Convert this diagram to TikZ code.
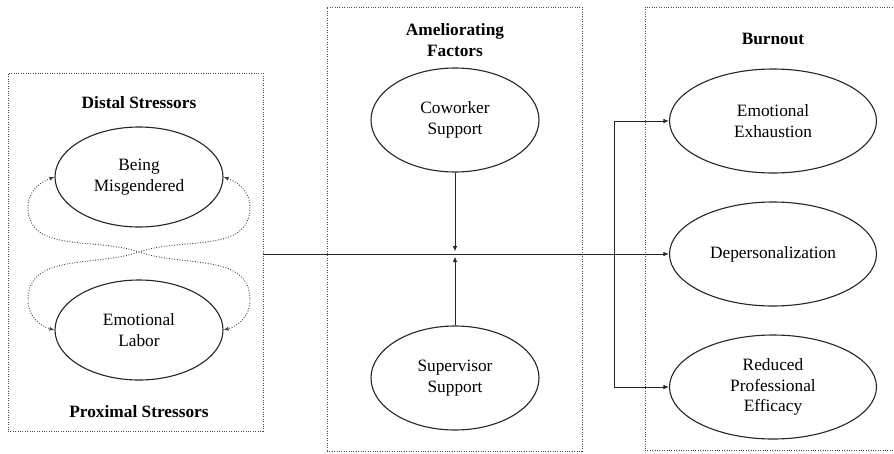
\documentclass[tikz,border=0pt]{standalone}
\usepackage{fontspec}
\setmainfont{Liberation Serif}
\usetikzlibrary{shapes.geometric,arrows.meta}
\begin{document}
\begin{tikzpicture}[x=1pt,y=1pt,
  every node/.style={font=\fontsize{17.3}{20.5}\selectfont, align=center, text=black},
  oval/.style={draw=black!85, line width=1.1pt, ellipse, inner sep=0pt},
  smalloval/.style={oval, minimum width=168, minimum height=100},
  bigoval/.style={oval, minimum width=207, minimum height=104},
  midoval/.style={oval, minimum width=168, minimum height=104},
  framebox/.style={draw=black!70, line width=0.8pt, dash pattern=on 0.8pt off 1.6pt, rectangle, inner sep=0pt},
  hdr/.style={font=\fontsize{17.3}{21}\selectfont\bfseries},
  arr/.style={draw=black!85, line width=1pt, -{Latex[length=5.5pt,width=4.5pt]}},
  dotarr/.style={draw=black!75, line width=0.9pt, dash pattern=on 0.9pt off 1.7pt, {Latex[length=5pt,width=4pt]}-{Latex[length=5pt,width=4pt]}}
]
\useasboundingbox (0,0) rectangle (894,-453);
\clip (0,0) rectangle (894,-453);
\fill[white] (0,0) rectangle (894,-453);

% frames
\node[framebox, minimum width=255, minimum height=358] (lbox) at (135.5,-252) {};
\node[framebox, minimum width=255, minimum height=444] (mbox) at (454.5,-229) {};
\node[framebox, minimum width=255, minimum height=443] (rbox) at (772.5,-228.5) {};

% headers
\node[hdr] (hdist) at (139,-103) {Distal Stressors};
\node[hdr] (hprox) at (139,-412) {Proximal Stressors};
\node[hdr] (hamel) at (455,-40) {Ameliorating\\Factors};
\node[hdr] (hburn) at (773,-39) {Burnout};

% ellipses
\node[smalloval] (bm) at (139,-177) {Being\\Misgendered};
\node[smalloval] (el) at (139,-330) {Emotional\\Labor};
\node[midoval] (cw) at (455,-120) {Coworker\\Support};
\node[midoval] (sv) at (455,-378) {Supervisor\\Support};
\node[bigoval] (ee) at (773,-121) {Emotional\\Exhaustion};
\node[bigoval] (dp) at (773,-254) {Depersonalization};
\node[bigoval] (rp) at (773,-387) {Reduced\\Professional\\Efficacy};

% coordinates
\coordinate (cross) at (139,-252);
\coordinate (lA) at (28,-207);
\coordinate (rA) at (250,-207);
\coordinate (lB) at (28,-300);
\coordinate (rB) at (250,-300);
\coordinate (split) at (614,-254);
\coordinate (modtop) at (455,-251.5);
\coordinate (modbot) at (455,-256.5);

% dotted reciprocal arrows
\draw[dotarr] (bm.west) to[out=200,in=90] (lA) to[out=-90,in=161] (cross)
  to[out=-19,in=90] (rB) to[out=-90,in=15] (el.east);
\draw[dotarr] (bm.east) to[out=-20,in=90] (rA) to[out=-90,in=19] (cross)
  to[out=199,in=90] (lB) to[out=-90,in=165] (el.west);

% main path
\draw[arr] (lbox.east |- dp.west) -- (dp.west);
\draw[arr] (split) |- (ee.west);
\draw[arr] (split) |- (rp.west);

% moderators
\draw[arr] (cw.south) -- (modtop);
\draw[arr] (sv.north) -- (modbot);
\end{tikzpicture}
\end{document}
